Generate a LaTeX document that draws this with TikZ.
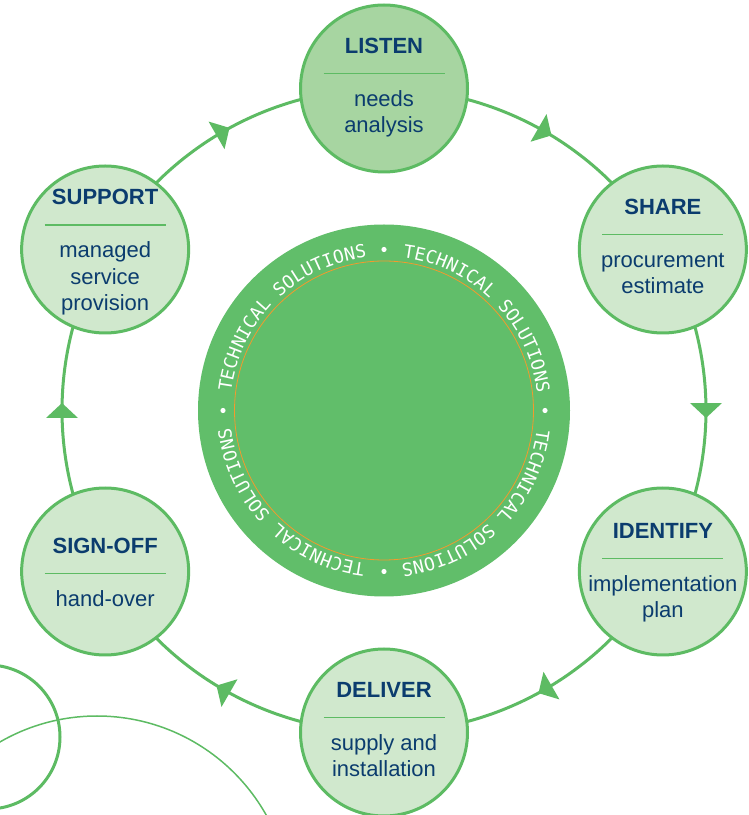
\documentclass[tikz,border=0pt]{standalone}
\usepackage{fontspec}
\setmainfont{Liberation Sans}
\newfontfamily\monofnt{DejaVu Sans Mono}
\usetikzlibrary{decorations.text,decorations.markings,calc}
\definecolor{ringgreen}{HTML}{5DBB63}
\definecolor{hubgreen}{HTML}{61BE6A}
\definecolor{listenfill}{HTML}{A7D5A1}
\definecolor{stagefill}{HTML}{D0E8CD}
\definecolor{navy}{HTML}{0B3C6E}
\definecolor{orangeline}{HTML}{F29A2E}
\pgfdeclarelayer{bg}
\pgfsetlayers{bg,main}
\newcommand{\bodylines}[1]{\begin{tabular}[t]{@{}c@{}}#1\end{tabular}}
\newcommand{\stagelabel}[4]{%
  \node[ttl] (#1-title) at ($(#1)+(0,35+#2)$) {#3};
  \draw[sep] ($(#1)+(-60.5,15+#2)$) -- ++(121,0);
  \node[body] (#1-body) at ($(#1)+(0,-18+#2)$) {\bodylines{#4}};
}
\begin{document}
\begin{tikzpicture}[x=1pt,y=1pt,
  stage/.style={circle, draw=ringgreen, line width=3pt, fill=stagefill, minimum size=167pt, inner sep=0pt},
  ttl/.style={anchor=base, text=navy, font=\fontsize{22}{26.5}\selectfont\bfseries, inner sep=0pt},
  body/.style={anchor=base, text=navy, font=\fontsize{22}{26.5}\selectfont, inner sep=0pt},
  sep/.style={draw=ringgreen, line width=1.3pt},
  ringline/.style={draw=ringgreen, line width=3pt},
  arrowmark/.style={postaction=decorate, decoration={markings, mark=at position 0.5 with {\fill[ringgreen] (7.5,0) -- (-7.5,16) -- (-7.5,-16) -- cycle;}}},
  hubtext/.style={postaction={decorate}, decoration={text along path, text align={fit to path},
    text={|\monofnt\fontsize{18}{18}\selectfont\color{white}|TECHNICAL SOLUTIONS}}}
]
\useasboundingbox (0,0) rectangle (749,815);
\coordinate (C) at (384,404.5);

% decorative circles
\begin{scope}
\clip (0,0) rectangle (749,815);
\draw[ringgreen, line width=3pt] (-12,78) circle[radius=72];
\draw[ringgreen, line width=1.5pt] (97,-95) circle[radius=194];
\end{scope}

% hub
\node[circle, fill=hubgreen, minimum size=372pt, inner sep=0pt] (hub) at (C) {};
\draw[orangeline, line width=0.8pt] (hub.center) circle[radius=149.5];
\foreach \a in {90,0,-90,-180}{
  \path[hubtext] ($(hub.center)+(\a-7:154)$) arc[start angle=\a-7, end angle=\a-83, radius=154];
  \fill[white] ($(hub.center)+(\a:161)$) circle[radius=2.6];
}

% stages
\node[stage, fill=listenfill] (listen) at ($(C)+(90:322)$) {};
\node[stage] (share) at ($(C)+(30:322)$) {};
\node[stage] (identify) at ($(C)+(-30:322)$) {};
\node[stage] (deliver) at ($(C)+(-90:322)$) {};
\node[stage] (signoff) at ($(C)+(-150:322)$) {};
\node[stage] (support) at ($(C)+(150:322)$) {};

\stagelabel{listen}{0}{LISTEN}{needs\\analysis}
\stagelabel{share}{0}{SHARE}{procurement\\estimate}
\stagelabel{identify}{-2}{IDENTIFY}{implementation\\plan}
\stagelabel{deliver}{0}{DELIVER}{supply and\\installation}
\stagelabel{signoff}{-17}{SIGN-OFF}{hand-over}
\stagelabel{support}{9.5}{SUPPORT}{managed\\service\\provision}

% ring connectors
\begin{pgfonlayer}{bg}
\draw[ringline, arrowmark] (listen.center) arc[start angle=90, end angle=30, radius=322];
\draw[ringline, arrowmark] (share.center) arc[start angle=30, end angle=-30, radius=322];
\draw[ringline, arrowmark] (identify.center) arc[start angle=-30, end angle=-90, radius=322];
\draw[ringline, arrowmark] (deliver.center) arc[start angle=-90, end angle=-150, radius=322];
\draw[ringline, arrowmark] (signoff.center) arc[start angle=-150, end angle=-210, radius=322];
\draw[ringline, arrowmark] (support.center) arc[start angle=150, end angle=90, radius=322];
\end{pgfonlayer}
\end{tikzpicture}
\end{document}
